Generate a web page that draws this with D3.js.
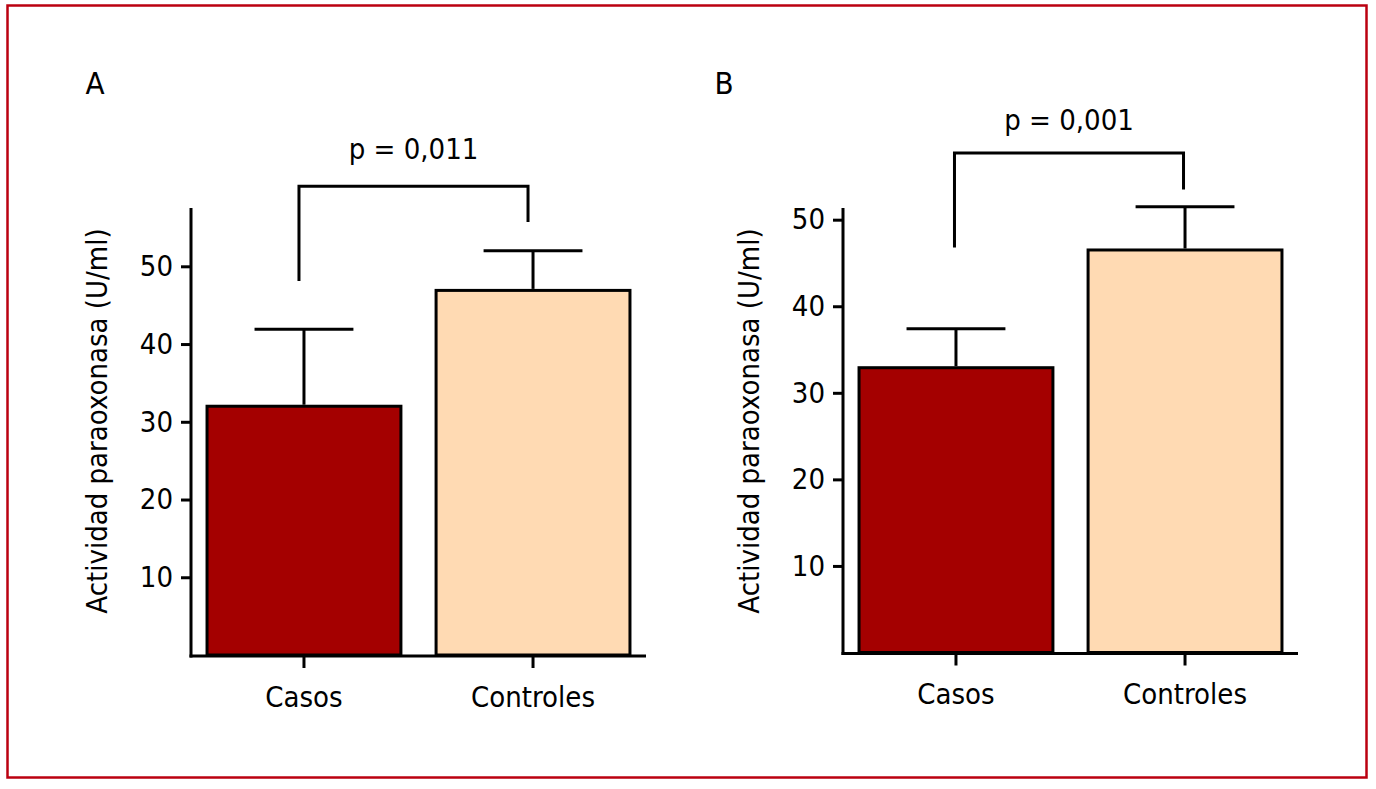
<!DOCTYPE html>
<html><head><meta charset="utf-8">
<script src="https://cdn.jsdelivr.net/npm/d3@7"></script>
<style>
body{margin:0;background:#fff}
text{font-family:"DejaVu Sans Condensed","Liberation Sans Narrow","Arial Narrow",sans-serif;fill:#000}
</style>
</head><body><svg id="c" width="1376" height="789"></svg>
<script>
// ---- data ----
const categories = ["Casos", "Controles"];
const meansA = [32.0, 46.9];
const errorsA = [9.9, 5.1];
const meansB = [32.9, 46.5];
const errorsB = [4.5, 5.0];
const yTicksA = [10, 20, 30, 40, 50];
const yTicksB = [10, 20, 30, 40, 50];
const panelLabels = ["A", "B"];
const pValues = ["p = 0,011", "p = 0,001"];
// bracket: [left end, top, right end] in data units
const bracketA = [48.1, 60.3, 55.7];
const bracketB = [46.8, 57.7, 53.5];
const yTitle = "Actividad paraoxonasa (U/ml)";
const barColors = ["#a40000", "#ffdab3"];

// ---- layout ----
const svg = d3.select("#c");
const FS = 29, LS = "0px";

svg.append("rect").attr("x", 7.5).attr("y", 5.5).attr("width", 1359).attr("height", 772)
  .attr("fill", "none").attr("stroke", "#bb0010").attr("stroke-width", 2.5);

const panels = [
  {x0: 191, zero: 655, top: 208, yMax: 57.5, means: meansA, errs: errorsA, ticks: yTicksA,
   bracket: bracketA, label: panelLabels[0], p: pValues[0], pY: 159, labelX: 95, titleX: 107, bdx: -5},
  {x0: 843, zero: 652.5, top: 208, yMax: 51.35, means: meansB, errs: errorsB, ticks: yTicksB,
   bracket: bracketB, label: panelLabels[1], p: pValues[1], pY: 130, labelX: 724, titleX: 759, bdx: -1.5}
];

panels.forEach(P => {
  const g = svg.append("g");
  const x = d3.scaleBand().domain(categories).range([P.x0, P.x0 + 455])
    .paddingInner(0.1535).paddingOuter(0.07);
  const y = d3.scaleLinear().domain([0, P.yMax]).range([P.zero, P.top]);
  const bw = x.bandwidth();

  // bars
  g.selectAll("rect.bar").data(categories).join("rect").attr("class", "bar")
    .attr("x", d => x(d)).attr("width", bw)
    .attr("y", (d, i) => y(P.means[i])).attr("height", (d, i) => y(0) - y(P.means[i]))
    .attr("fill", (d, i) => barColors[i]).attr("stroke", "#000").attr("stroke-width", 3);

  // error bars
  categories.forEach((c, i) => {
    const cx = x(c) + bw / 2;
    g.append("line").attr("x1", cx).attr("x2", cx)
      .attr("y1", y(P.means[i]) - 1.5).attr("y2", y(P.means[i] + P.errs[i]))
      .attr("stroke", "#000").attr("stroke-width", 3);
    g.append("line").attr("x1", cx - bw * 0.255).attr("x2", cx + bw * 0.255)
      .attr("y1", y(P.means[i] + P.errs[i])).attr("y2", y(P.means[i] + P.errs[i]))
      .attr("stroke", "#000").attr("stroke-width", 3);
  });

  // y axis
  const ya = g.append("g").attr("transform", `translate(${P.x0},0)`)
    .call(d3.axisLeft(y).tickValues(P.ticks).tickSize(10).tickSizeOuter(0).tickPadding(8));
  ya.select(".domain").remove();
  ya.selectAll(".tick line").attr("stroke", "#000").attr("stroke-width", 3);
  ya.selectAll(".tick text").attr("font-size", FS).attr("font-family", null)
    .style("letter-spacing", LS);
  g.append("line").attr("x1", P.x0).attr("x2", P.x0).attr("y1", P.top).attr("y2", P.zero + 2.5)
    .attr("stroke", "#000").attr("stroke-width", 3);

  // x axis
  const xa = g.append("g").attr("transform", `translate(0,${P.zero + 1})`)
    .call(d3.axisBottom(x).tickSize(12).tickSizeOuter(0).tickPadding(18));
  xa.select(".domain").remove();
  xa.selectAll(".tick line").attr("stroke", "#000").attr("stroke-width", 3);
  xa.selectAll(".tick text").attr("font-size", FS).attr("font-family", null)
    .style("letter-spacing", LS);
  g.append("line").attr("x1", P.x0 - 1.5).attr("x2", P.x0 + 455).attr("y1", P.zero + 1).attr("y2", P.zero + 1)
    .attr("stroke", "#000").attr("stroke-width", 3);

  // bracket
  const xL = x(categories[0]) + bw / 2 + P.bdx, xR = x(categories[1]) + bw / 2 + P.bdx;
  g.append("path")
    .attr("d", `M${xL},${y(P.bracket[0])}V${y(P.bracket[1])}H${xR}V${y(P.bracket[2])}`)
    .attr("fill", "none").attr("stroke", "#000").attr("stroke-width", 3);
  g.append("text").attr("x", (xL + xR) / 2).attr("y", P.pY).attr("text-anchor", "middle")
    .attr("font-size", FS).style("letter-spacing", LS).text(P.p);

  // panel label
  g.append("text").attr("x", P.labelX).attr("y", 94).attr("text-anchor", "middle")
    .attr("font-size", 31).text(P.label);

  // y title
  g.append("text").attr("transform", `translate(${P.titleX},421) rotate(-90)`)
    .attr("text-anchor", "middle").attr("font-size", FS).style("letter-spacing", LS)
    .text(yTitle);
});
</script>
</body></html>
